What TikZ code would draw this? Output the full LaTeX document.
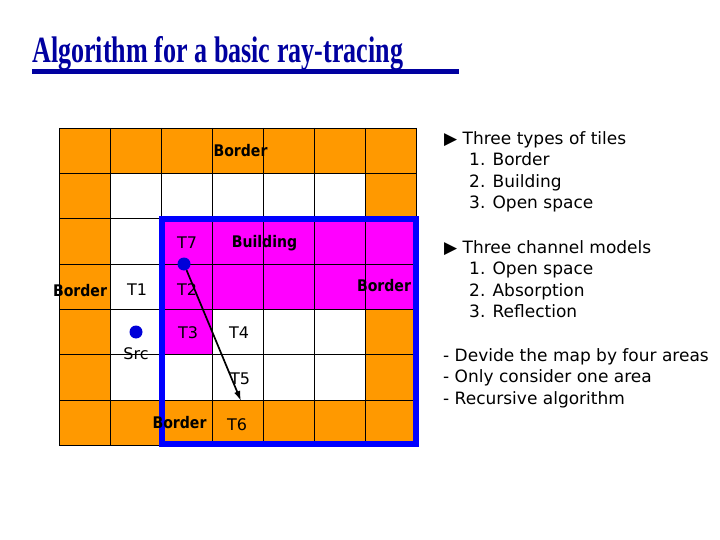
\documentclass[tikz,border=0pt]{standalone}
\usepackage{fontspec}
\setmainfont{DejaVu Sans}
\newfontfamily\titlefont[FakeStretch=0.705]{Liberation Serif}
\newfontfamily\lblfont[FakeStretch=0.88]{DejaVu Sans}
\usetikzlibrary{arrows.meta}
\definecolor{tileorange}{RGB}{255,153,0}
\definecolor{tilemagenta}{RGB}{255,0,255}
\definecolor{areablue}{RGB}{0,0,255}
\definecolor{titleblue}{RGB}{0,0,160}
\begin{document}
\begin{tikzpicture}[x=1pt,y=-1pt,
    tlabel/.style={font=\fontsize{16}{16}\selectfont,inner sep=0pt,text height=11.5pt,text depth=0pt},
    blabel/.style={font=\lblfont\bfseries\fontsize{16}{16}\selectfont,inner sep=0pt,text height=11.7pt,text depth=0pt},
    dot/.style={circle,fill=areablue!85!black,inner sep=0pt,minimum size=13pt},
    bullet/.style={anchor=base west,inner sep=0pt,font=\fontsize{17}{17}\selectfont}]
        \useasboundingbox (0,0) rectangle (720,540);
        \node[anchor=base west,inner sep=0pt,text=titleblue,font=\titlefont\bfseries\fontsize{37}{37}\selectfont](title)at(32,63){Algorithm for a basic ray-tracing};
        \fill[titleblue](32,69)rectangle(459,74);
        % tiles
        \fill[tileorange](59,128)rectangle(416,445.1);
        \fill[white](110,173.3)rectangle(365,399.8);
        \fill[tilemagenta](161,218.6)rectangle(416,309.2);
        \fill[tilemagenta](161,309.2)rectangle(212,354.5);
        \foreach \c in {0,...,7} \draw (59+51*\c,128) -- (59+51*\c,445.1);
        \foreach \r in {0,...,7} \draw (59,128+45.3*\r) -- (416,128+45.3*\r);
        \draw[line width=1.3pt] (110,218.6) -- (161,218.6);
        \draw[areablue,line width=6pt] (161.5,219) rectangle (416,444);
        % labels
        \node[blabel](bordertop)at(240.5,151){Border};
        \node[blabel](building)at(264.5,241.5){Building};
        \node[blabel](borderleft)at(80,291){Border};
        \node[blabel](borderright)at(384,285.5){Border};
        \node[blabel](borderbottom)at(179.5,423){Border};
        \node[tlabel](t7)at(187,243){T7};
        \node[tlabel](t1)at(137,289.5){T1};
        \node[tlabel](t2)at(187,289.5){T2};
        \node[tlabel](t3)at(188,333){T3};
        \node[tlabel](t4)at(239,333){T4};
        \node[tlabel](t5)at(240,378.5){T5};
        \node[tlabel](t6)at(237,425){T6};
        \node[tlabel](srclabel)at(136,353.5){Src};
        % ray
        \node[dot](tx)at(184,264){};
        \node[dot](src)at(136,332){};
        \coordinate(hit)at(241,401);
        \draw[-{Latex[length=10pt,width=6.5pt]},line width=1.7pt](tx)--(hit);
        % notes
        \node[bullet](tiles)at(444,145){▶ Three types of tiles};
        \foreach \txt [count=\i] in {1. Border,2. Building,3. Open space} \node[bullet](tile\i)at(469,144.5+21.5*\i){\txt};
        \node[bullet](models)at(444,253){▶ Three channel models};
        \foreach \txt [count=\i] in {1. Open space,2. Absorption,3. Reflection} \node[bullet](model\i)at(469,253+21.5*\i){\txt};
        \foreach \txt [count=\i] in {- Devide the map by four areas,- Only consider one area,- Recursive algorithm} \node[bullet](step\i)at(443,339.5+21.5*\i){\txt};
    \end{tikzpicture}
\end{document}
